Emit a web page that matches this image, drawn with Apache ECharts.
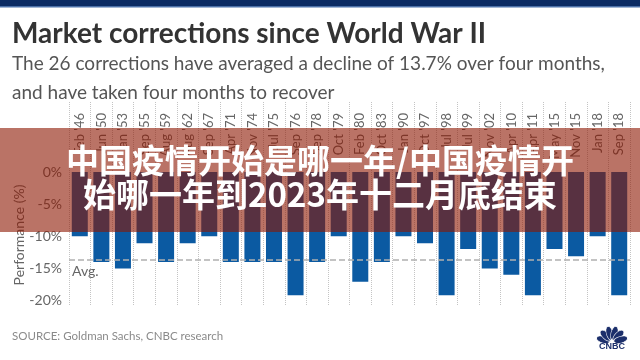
<!DOCTYPE html>
<html>
<head>
<meta charset="utf-8">
<script src="https://cdn.jsdelivr.net/npm/echarts@6/dist/echarts.min.js"></script>
<style>
html,body{margin:0;padding:0;background:#fff;}
#chart{width:640px;height:360px;}
</style>
</head>
<body>
<div id="chart"></div>
<script>
const categories = ["Feb '46","Jun '50","Jan '53","Sep '55","Aug '59","Aug '62","Sep '67","Apr '71","Nov '74","Jul '75","Sep '76","Sep '78","Oct '79","Feb '80","Oct '83","Jan '90","Oct '97","Jul '98","Jul '99","Nov '02","Apr '10","Apr '11","May '15","Nov '15","Jan '18","Sep '18"];
const declines = [-10.0,-14.0,-15.0,-11.1,-14.0,-11.1,-10.0,-14.0,-14.0,-14.0,-19.2,-14.0,-10.0,-17.1,-14.0,-10.0,-11.1,-19.2,-12.0,-15.0,-16.0,-19.2,-12.0,-13.1,-10.0,-19.2];
const yTicks = [0,-5,-10,-15,-20];
const average = -13.7;
const titleText = "Market corrections since World War II";
const subtitleLines = ["The 26 corrections have averaged a decline of 13.7% over four months,","and have taken four months to recover"];
const sourceText = "SOURCE: Goldman Sachs, CNBC research";
const yName = "Performance (%)";
const overlayLines = ["中国疫情开始是哪一年/中国疫情开","始哪一年到2023年十二月底结束"];

const chart = echarts.init(document.getElementById('chart'), null, {renderer:'canvas'});

const navy = '#1c2f6b';
const feathers = [-75,-45,-15,15,45,75].map(function(deg){
  const a = deg*Math.PI/180;
  const d = 9;
  return {type:'circle', shape:{cx:0,cy:0,r:1}, x: 612 + d*Math.sin(a), y: 342 - d*Math.cos(a),
    scaleX:3.4, scaleY:7.2, rotation:-a, style:{fill:navy, stroke:'#fff', lineWidth:0.15}, z:50};
});

const option = {
  animation:false,
  grid:{left:69, right:10, top:102, bottom:55},
  xAxis:{
    type:'category', data:categories, position:'top',
    axisLine:{show:false}, axisTick:{show:false},
    splitLine:{show:true, lineStyle:{type:'dotted', color:'#c4c4c4', width:1}},
    axisLabel:{inside:true, rotate:90, margin:11, interval:0, color:'#666', fontSize:13, fontFamily:'Lato'}
  },
  yAxis:{
    type:'value', min:-20.7, max:10.9,
    splitLine:{show:false}, axisLine:{show:false}, axisTick:{show:false},
    axisLabel:{customValues:yTicks, formatter:function(v){return v+'%';}, color:'#666', fontSize:14, margin:7, fontFamily:'Lato'}
  },
  series:[{
    type:'bar', data:declines, barWidth:16,
    itemStyle:{color:'#0b5aa2'},
    markLine:{
      silent:true, symbol:['none','none'],
      lineStyle:{type:'dashed', color:'#b0b0b0', width:1.5},
      label:{show:true, position:'insideStartBottom', formatter:'Avg.', color:'#666', fontSize:14, fontFamily:'Lato', distance:[3,4]},
      data:[{yAxis:average}]
    }
  }],
  graphic:[
    {type:'rect', shape:{x:0,y:0,width:640,height:6}, style:{fill:'#0b2b63'}, z:10},
    {type:'rect', shape:{x:0,y:6,width:640,height:1.5}, style:{fill:'#4b70a8'}, z:10},
    {type:'text', x:12, y:34, style:{text:titleText, fill:'#333', font:'bold 28px Lato', textVerticalAlign:'middle'}, z:10},
    {type:'text', x:12, y:64, style:{text:subtitleLines[0], fill:'#555', font:'19px Lato', textVerticalAlign:'middle'}, z:10},
    {type:'text', x:12, y:93, style:{text:subtitleLines[1], fill:'#555', font:'19px Lato', textVerticalAlign:'middle'}, z:10},
    {type:'text', x:19, y:235, rotation:Math.PI/2, style:{text:yName, fill:'#666', font:'14px Lato', textAlign:'center', textVerticalAlign:'middle'}, z:10},
    {type:'text', x:12, y:336, style:{text:sourceText, fill:'#8a8a8a', font:'11.5px Lato', textVerticalAlign:'middle'}, z:10},
    {type:'group', children:feathers},
    {type:'text', x:612, y:347, style:{text:'CNBC', fill:navy, font:'bold 9px "Liberation Sans"', textAlign:'center', textVerticalAlign:'middle'}, z:50},
    {type:'rect', shape:{x:0,y:128,width:640,height:104}, style:{fill:'rgba(140,22,0,0.6)'}, z:100},
    {type:'text', x:320, y:160, style:{text:overlayLines[0], fill:'#fff', font:'bold 33px "Noto Sans CJK SC"', textAlign:'center', textVerticalAlign:'middle'}, z:101},
    {type:'text', x:320, y:194, style:{text:overlayLines[1], fill:'#fff', font:'bold 33px "Noto Sans CJK SC"', textAlign:'center', textVerticalAlign:'middle'}, z:101}
  ]
};
chart.setOption(option);
</script>
</body>
</html>
